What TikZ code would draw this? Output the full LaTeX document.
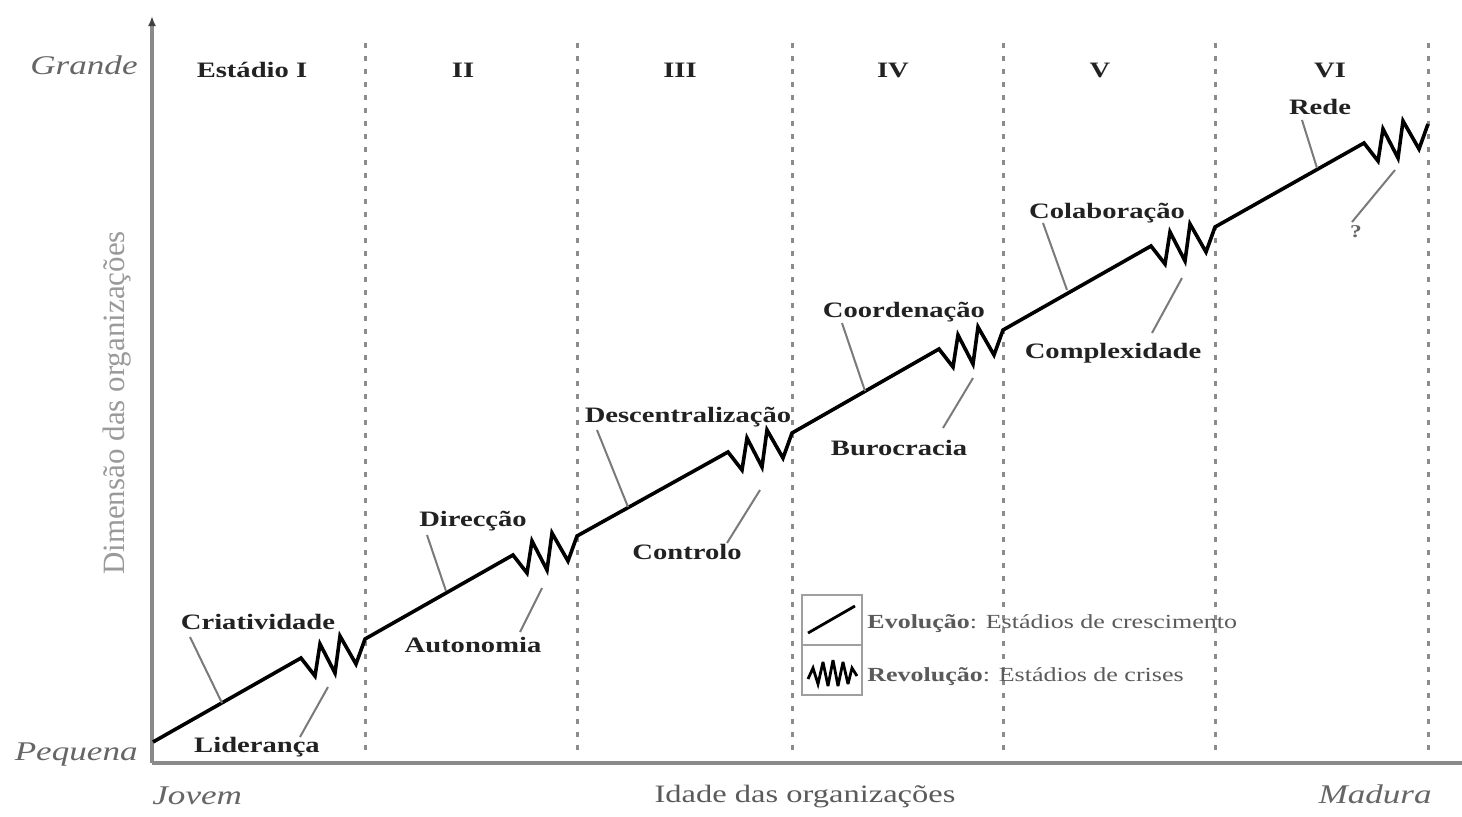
\documentclass[tikz,border=0pt]{standalone}
\usepackage{fontspec}
\setmainfont{Liberation Serif}
\newfontfamily\wideserif{Liberation Serif}[FakeStretch=1.3]
\usetikzlibrary{arrows.meta}

\definecolor{axisgray}{HTML}{8A8A8A}
\definecolor{guidegray}{HTML}{8C8C8C}
\definecolor{leadergray}{HTML}{7A7A7A}
\definecolor{labelink}{HTML}{222222}
\definecolor{softink}{HTML}{666666}
\definecolor{paleink}{HTML}{9A9A9A}
\definecolor{legendink}{HTML}{5A5A5A}

\tikzset{
  axisline/.style={draw=axisgray, line width=2pt},
  guide/.style={draw=guidegray, line width=1.5pt, dash pattern=on 2.5pt off 4pt},
  growth/.style={draw=black, line width=1.8pt, line join=miter, miter limit=4},
  leader/.style={draw=leadergray, line width=1pt},
  phase/.style={font=\wideserif\bfseries\fontsize{11}{13}\selectfont, text=labelink, inner sep=0pt},
  stagelabel/.style={phase},
  extreme/.style={font=\wideserif\itshape\fontsize{13.5}{15}\selectfont, text=softink, inner sep=0pt},
  axistitle/.style={font=\wideserif\fontsize{12.5}{14}\selectfont, text=legendink, inner sep=0pt},
  legendtext/.style={font=\wideserif\fontsize{10}{12}\selectfont, text=legendink, inner sep=0pt, anchor=west},
  legendframe/.style={draw=gray!75, line width=1.2pt},
  % one crisis: three saw teeth that end on the next stage boundary
  teeth/.style={insert path={-- ++(14,18) -- ++(5,-32) -- ++(15,29) -- ++(5,-37) -- ++(16,28) -- ++(9,-25)}},
}

\begin{document}
\begin{tikzpicture}[x=0.5pt, y=-0.5pt]
  \useasboundingbox (0,0) rectangle (1462,816);
  \fill[white] (0,0) rectangle (1462,816);

  % stage boundaries (dotted)
  \foreach \gx/\gn in {365/1, 577/2, 792/3, 1003/4, 1215/5, 1428/6} {
    \coordinate (gtop\gn) at (\gx,43);
    \coordinate (gbot\gn) at (\gx,750);
    \draw[guide] (gtop\gn) -- (gbot\gn);
  }

  % axes
  \coordinate (origin) at (152,763);
  \coordinate (yend) at (152,16);
  \coordinate (xend) at (1462,763);
  \draw[axisline] (origin) -- (xend);
  \draw[axisline, -{Latex[length=5pt, width=4pt, color=black!75]}] (origin) -- (yend);

  % stage titles
  \node[stagelabel] (st1) at (252,70) {Estádio I};
  \node[stagelabel] (st2) at (463,70) {II};
  \node[stagelabel] (st3) at (680,70) {III};
  \node[stagelabel] (st4) at (893,70) {IV};
  \node[stagelabel] (st5) at (1100,70) {V};
  \node[stagelabel] (st6) at (1330,70) {VI};

  % growth path: evolution segments and crises
  \coordinate (b0) at (153,742);
  \coordinate (z1) at (301,658);
  \coordinate (z2) at (513,555);
  \coordinate (z3) at (728,452);
  \coordinate (z4) at (939,349);
  \coordinate (z5) at (1151,246);
  \coordinate (z6) at (1364,143);
  \draw[growth] (b0) -- (z1) [teeth] -- (z2) [teeth] -- (z3) [teeth]
                -- (z4) [teeth] -- (z5) [teeth] -- (z6) [teeth];

  % phase labels
  \node[phase] (cria) at (258,622) {Criatividade};
  \node[phase] (lide) at (257,747) {Liderança};
  \node[phase] (dire) at (473,521) {Direcção};
  \node[phase] (auto) at (473,645) {Autonomia};
  \node[phase] (desc) at (688,417) {Descentralização};
  \node[phase] (cont) at (687,552) {Controlo};
  \node[phase] (coor) at (904,312) {Coordenação};
  \node[phase] (buro) at (899,448) {Burocracia};
  \node[phase] (cola) at (1107,213) {Colaboração};
  \node[phase] (comp) at (1113,353) {Complexidade};
  \node[phase] (rede) at (1320,107) {Rede};
  \node[phase, font=\wideserif\bfseries\fontsize{9}{11}\selectfont, text=softink] (qm) at (1356,232) {?};

  % leader lines from labels to the path
  \foreach \ln/\ax/\ay/\bx/\by in {
      cria/190/637/222/703,
      lide/328/687/300/737,
      dire/427/535/446/591,
      auto/542/588/520/632,
      desc/597/430/628/507,
      cont/760/490/727/543,
      coor/842/323/865/391,
      buro/973/378/943/428,
      cola/1043/223/1067/290,
      comp/1182/278/1152/333,
      rede/1302/120/1317/168,
      qm/1395/170/1352/222} {
    \coordinate (\ln-a) at (\ax,\ay);
    \coordinate (\ln-b) at (\bx,\by);
    \draw[leader] (\ln-a) -- (\ln-b);
  }

  % legend
  \draw[legendframe] (802,595) rectangle (862,645);
  \draw[legendframe] (802,645) rectangle (862,695);
  \coordinate (evoA) at (808,633);
  \coordinate (evoB) at (855,606);
  \draw[growth, line width=1.4pt] (evoA) -- (evoB);
  \coordinate (revA) at (808,679);
  \draw[growth, line width=1.4pt] (revA) -- ++(5,-11) -- ++(5,16) -- ++(5,-22) -- ++(5,24)
        -- ++(5,-26) -- ++(5,26) -- ++(5,-24) -- ++(5,22) -- ++(4,-16) -- ++(5,8);
  \node[legendtext] (evo) at (867,624) {\textbf{Evolução}: Estádios de crescimento};
  \node[legendtext] (rev) at (867,677) {\textbf{Revolução}: Estádios de crises};

  % axis annotations
  \node[extreme, anchor=east] (grande) at (138,65) {Grande};
  \node[extreme, anchor=east] (pequena) at (138,755) {Pequena};
  \node[extreme, anchor=west] (jovem) at (152,796) {Jovem};
  \node[extreme, anchor=east] (madura) at (1432,794) {Madura};
  \node[axistitle] (idade) at (805,797) {Idade das organizações};
  \node[rotate=90, font=\fontsize{15.5}{17}\selectfont, text=paleink, inner sep=0pt] (dimensao) at (117,403) {Dimensão das organizações};
\end{tikzpicture}
\end{document}
